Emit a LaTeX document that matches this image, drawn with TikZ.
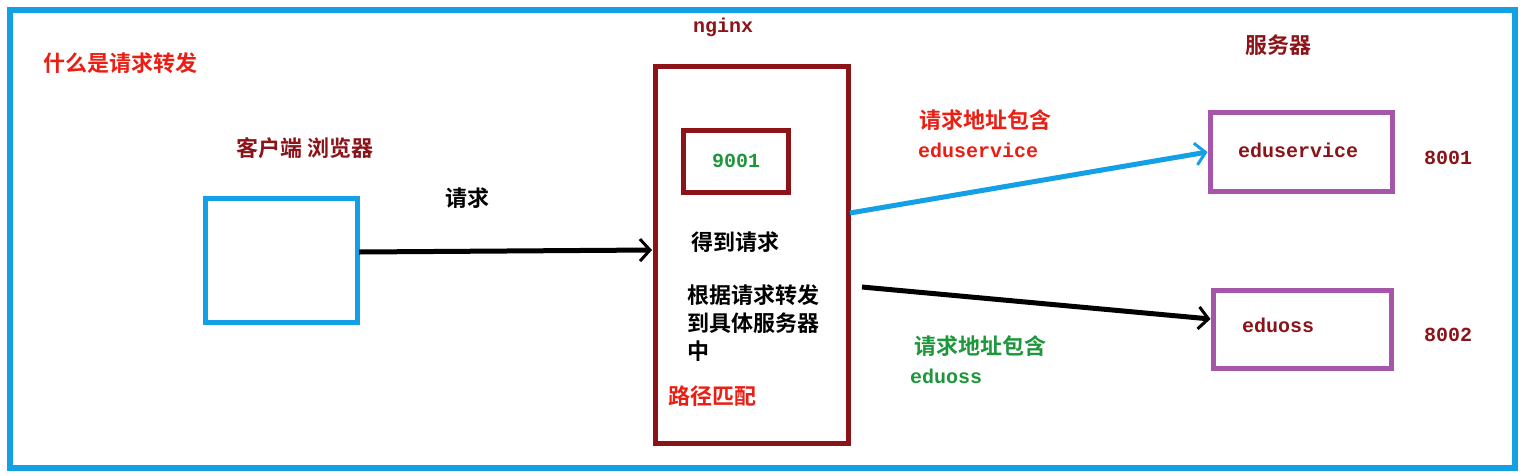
\documentclass[tikz,border=0pt]{standalone}
\usepackage{fontspec}
\setmainfont{Liberation Sans}
\newfontfamily\cjk{Noto Sans CJK SC}[BoldFont={Noto Sans CJK SC Bold}]
\setmonofont{Liberation Mono}
\usetikzlibrary{arrows.meta}
\definecolor{frameblue}{RGB}{20,160,230}
\definecolor{dred}{RGB}{140,20,25}
\definecolor{myred}{RGB}{235,30,20}
\definecolor{mygreen}{RGB}{30,150,60}
\definecolor{mypurple}{RGB}{165,85,170}
\tikzset{
  cn/.style={font=\cjk\bfseries\fontsize{22}{28}\selectfont},
  mono/.style={font=\ttfamily\bfseries\fontsize{20}{24}\selectfont},
  arr/.style={line width=5pt,-{Straight Barb[length=10pt,width=22pt,line width=3pt]}},
}
\begin{document}
\begin{tikzpicture}[x=1pt,y=-1pt]
\useasboundingbox (0,0) rectangle (1522,475);
\draw[frameblue,line width=6pt] (10,10) rectangle (1515,468);
\node[cn,text=myred] (title) at (120,63) {什么是请求转发};
\node[cn,text=dred] (client) at (305,148) {客户端 浏览器};
\draw[frameblue,line width=5pt] (205,198) rectangle (357,322);
\coordinate (cout) at (359,252);
\node[cn] (req) at (467,198) {请求};
\node[mono,text=dred] (nginx) at (723,27) {nginx};
\draw[dred,line width=5pt] (655,66) rectangle (848,443);
\coordinate (nin) at (652,250);
\node[draw=dred,line width=5pt,minimum width=105pt,minimum height=62pt,mono,text=mygreen] (port) at (736,161) {9001\hspace{15pt}};
\node[cn] (got) at (735,242) {得到请求};
\node[cn,align=left,anchor=north west,inner sep=0pt] (fw) at (687,284) {根据请求转发\\到具体服务器\\中};
\node[cn,text=myred] (match) at (712,396) {路径匹配};
\node[cn,text=dred] (srv) at (1278,45) {服务器};
\node[draw=mypurple,line width=5pt,minimum width=182pt,minimum height=79pt] (s1) at (1301,152) {};
\node[mono,text=dred] at (1298,150) {eduservice};
\node[draw=mypurple,line width=5pt,minimum width=178pt,minimum height=78pt] (s2) at (1302,329) {};
\node[mono,text=dred] at (1278,325) {eduoss};
\node[mono,text=dred] (p1) at (1448,158) {8001};
\node[mono,text=dred] (p2) at (1448,335) {8002};
\draw[arr] (cout) -- (nin);
\coordinate (b1) at (850,213);
\coordinate (b2) at (862,287);
\draw[arr,frameblue] (b1) -- (s1.west);
\draw[arr] (b2) -- ([yshift=10pt]s2.west);
\node[cn,text=myred] (l1) at (985,120) {请求地址包含};
\node[mono,text=myred] (l1b) at (978,150) {eduservice};
\node[cn,text=mygreen] (l2) at (980,346) {请求地址包含};
\node[mono,text=mygreen] (l2b) at (946,376) {eduoss};
\end{tikzpicture}
\end{document}
